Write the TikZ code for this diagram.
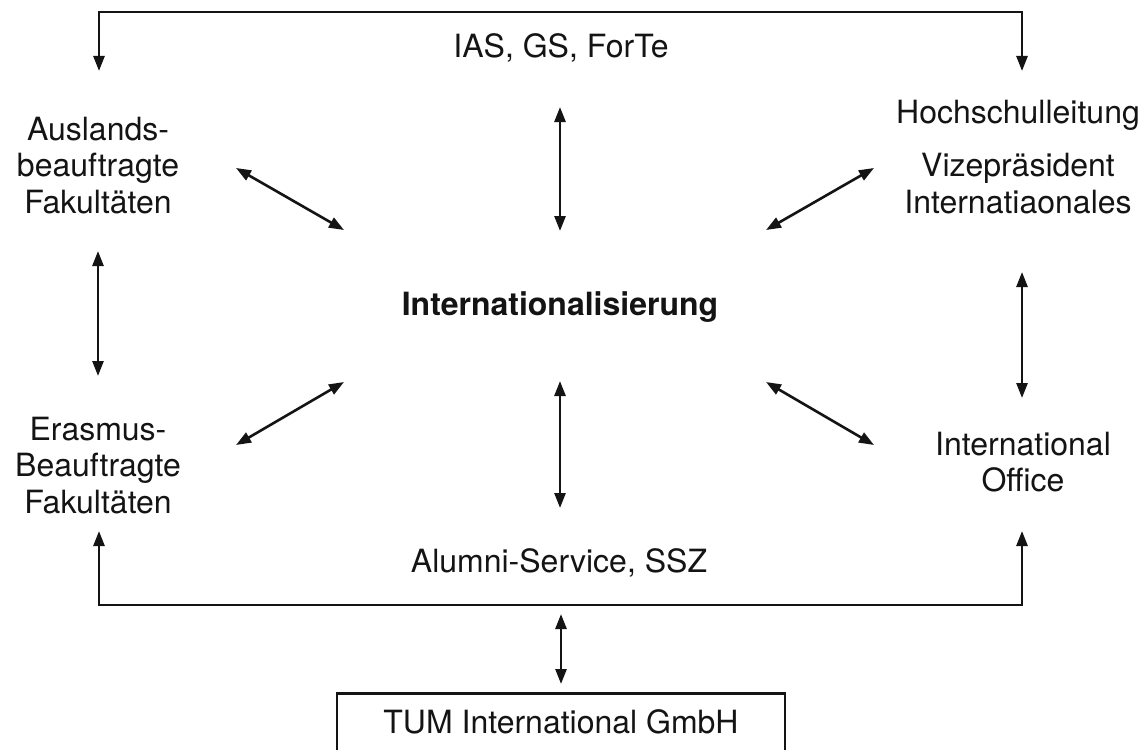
\documentclass[tikz,border=0pt]{standalone}
\usepackage{fontspec}
\setmainfont{TeX Gyre Heros}
\usetikzlibrary{arrows.meta}
\tikzset{
  lbl/.style={inner sep=0pt, align=center, font=\fontsize{32}{36.5}\selectfont, text=black!92},
  conn/.style={line width=2.6pt, draw=black!92},
  tips/.style={{Triangle[length=15pt,width=11pt]}-{Triangle[length=15pt,width=11pt]}},
  boxnode/.style={lbl, draw=black!92, line width=2.4pt, minimum width=448pt, minimum height=68pt, text depth=11pt}
}
\begin{document}
\begin{tikzpicture}[x=1pt,y=-1pt]
\useasboundingbox (0,0) rectangle (1147,749);
\clip (0,0) rectangle (1147,749);
\fill[white] (0,0) rectangle (1147,749);

% text nodes
\node[lbl, anchor=base] (ias) at (561,58) {IAS, GS, ForTe};
\node[lbl, anchor=center] (ausl) at (98,165.5) {Auslands-\\beauftragte\\Fakult\"aten};
\node[lbl, anchor=base] (hsl) at (1018,124) {Hochschulleitung};
\node[lbl, anchor=center] (vize) at (1018,183.5) {Vizepr\"asident\\Internatiaonales};
\node[lbl, anchor=base, font=\fontsize{32}{36.5}\selectfont\bfseries] (intl) at (560,315) {Internationalisierung};
\node[lbl, anchor=center] (eras) at (98,465.5) {Erasmus-\\Beauftragte\\Fakult\"aten};
\node[lbl, anchor=center] (io) at (1023,462) {International\\Office};
\node[lbl, anchor=base] (alu) at (559,572) {Alumni-Service, SSZ};
\node[boxnode] (tum) at (561,727.5) {TUM International GmbH};

% coordinates
\coordinate (ltop) at (99,71);
\coordinate (tlc) at (99,12);
\coordinate (trc) at (1022,12);
\coordinate (rtop) at (1022,71);
\coordinate (lbot) at (99,531);
\coordinate (blc) at (99,605);
\coordinate (brc) at (1022,605);
\coordinate (rbot) at (1022,531);

\coordinate (c1a) at (560,107);  \coordinate (c1b) at (560,231);
\coordinate (ul1) at (236,168);  \coordinate (ul2) at (344,230);
\coordinate (ur1) at (766,230);  \coordinate (ur2) at (874,168);
\coordinate (ll1) at (344,382);  \coordinate (ll2) at (236,445);
\coordinate (lr1) at (766,382);  \coordinate (lr2) at (874,445);
\coordinate (lv1) at (98,251);   \coordinate (lv2) at (98,376);
\coordinate (rv1) at (1022,272); \coordinate (rv2) at (1022,398);
\coordinate (c2a) at (560,381);  \coordinate (c2b) at (560,508);
\coordinate (c3a) at (561,614);  \coordinate (c3b) at (561,684);

% brackets
\draw[conn, tips] (ltop) -- (tlc) -- (trc) -- (rtop);
\draw[conn, tips] (lbot) -- (blc) -- (brc) -- (rbot);

% double arrows
\draw[conn, tips] (c1a) -- (c1b);
\draw[conn, tips] (ul1) -- (ul2);
\draw[conn, tips] (ur1) -- (ur2);
\draw[conn, tips] (ll1) -- (ll2);
\draw[conn, tips] (lr1) -- (lr2);
\draw[conn, tips] (lv1) -- (lv2);
\draw[conn, tips] (rv1) -- (rv2);
\draw[conn, tips] (c2a) -- (c2b);
\draw[conn, tips] (c3a) -- (c3b);
\end{tikzpicture}
\end{document}
